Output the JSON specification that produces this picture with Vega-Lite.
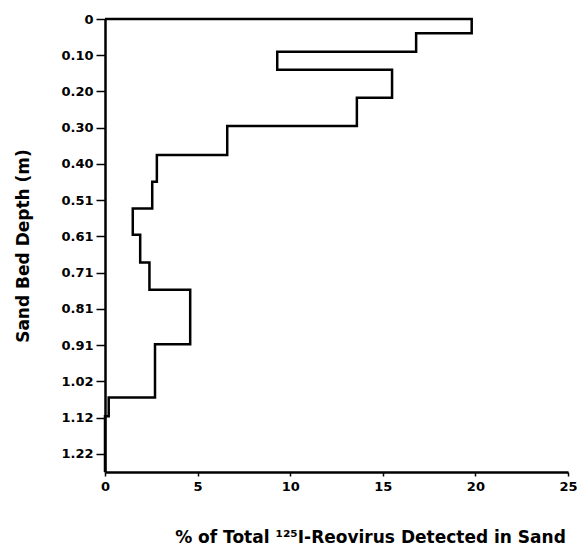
{
  "$schema": "https://vega.github.io/schema/vega-lite/v6.json",
  "autosize": {"type": "none"},
  "width": 463,
  "height": 453,
  "padding": {"left": 105, "top": 19, "right": 9, "bottom": 78},
  "background": "white",
  "config": {
    "view": {"stroke": null},
    "axis": {
      "labelFont": "DejaVu Sans",
      "labelFontWeight": "bold",
      "labelFontSize": 13,
      "labelColor": "black",
      "titleFont": "DejaVu Sans",
      "titleFontWeight": "bold",
      "titleFontSize": 17,
      "titleColor": "black",
      "domainColor": "black",
      "domainWidth": 2.5,
      "tickColor": "black",
      "tickWidth": 1.5,
      "grid": false
    }
  },
  "data": {
    "values": [
      {"seq": 1, "pct": 0, "depth": 0},
      {"seq": 2, "pct": 19.8, "depth": 0},
      {"seq": 3, "pct": 16.8, "depth": 0.040},
      {"seq": 4, "pct": 9.3, "depth": 0.092},
      {"seq": 5, "pct": 15.5, "depth": 0.142},
      {"seq": 6, "pct": 13.6, "depth": 0.221},
      {"seq": 7, "pct": 6.6, "depth": 0.300},
      {"seq": 8, "pct": 2.8, "depth": 0.381},
      {"seq": 9, "pct": 2.55, "depth": 0.456},
      {"seq": 10, "pct": 1.5, "depth": 0.531},
      {"seq": 11, "pct": 1.9, "depth": 0.605},
      {"seq": 12, "pct": 2.4, "depth": 0.683},
      {"seq": 13, "pct": 4.6, "depth": 0.759},
      {"seq": 14, "pct": 2.7, "depth": 0.912},
      {"seq": 15, "pct": 0.2, "depth": 1.061},
      {"seq": 16, "pct": 0, "depth": 1.114},
      {"seq": 17, "pct": 0, "depth": 1.27}
    ]
  },
  "mark": {"type": "line", "interpolate": "step-before", "color": "black", "strokeWidth": 2.5, "clip": false},
  "encoding": {
    "order": {"field": "seq", "type": "quantitative"},
    "x": {
      "field": "pct",
      "type": "quantitative",
      "scale": {"domain": [0, 25], "nice": false},
      "axis": {
        "values": [0, 5, 10, 15, 20, 25],
        "title": "% of Total ¹²⁵I-Reovirus Detected in Sand",
        "titleX": 265,
        "titleAnchor": "middle",
        "tickSize": 4,
        "labelPadding": 4,
        "titlePadding": 36,
        "labelFlush": false
      }
    },
    "y": {
      "field": "depth",
      "type": "quantitative",
      "scale": {"domain": [0, 1.27], "nice": false, "zero": false, "reverse": true},
      "axis": {
        "values": [0, 0.1016, 0.2032, 0.3048, 0.4064, 0.508, 0.6096, 0.7112, 0.8128, 0.9144, 1.016, 1.1176, 1.2192],
        "labelExpr": "['0','0.10','0.20','0.30','0.40','0.51','0.61','0.71','0.81','0.91','1.02','1.12','1.22'][round(datum.value/0.1016)]",
        "title": "Sand Bed Depth (m)",
        "tickSize": 9,
        "labelPadding": 3,
        "titlePadding": 28,
        "labelFlush": false
      }
    }
  }
}
